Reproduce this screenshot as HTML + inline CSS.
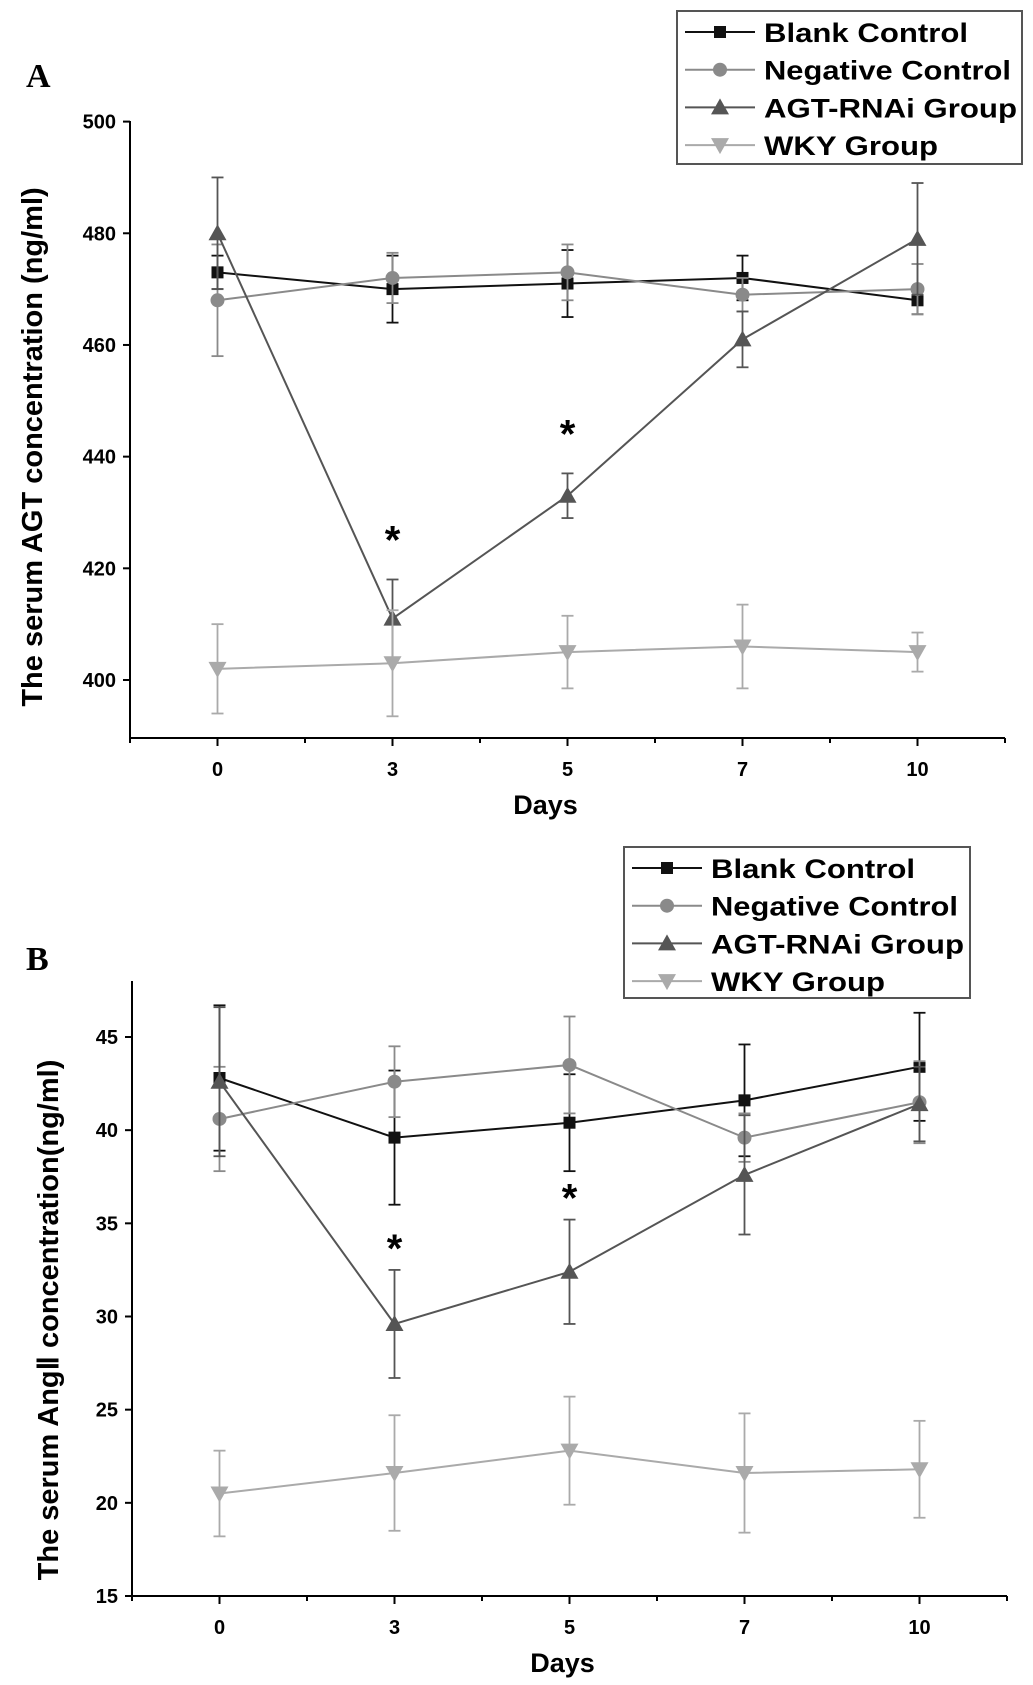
<!DOCTYPE html>
<html><head><meta charset="utf-8"><style>
body{margin:0;background:#fff}
svg{display:block}
text{font-family:"Liberation Sans",sans-serif;font-weight:bold}
</style></head><body>
<svg id="s" width="1033" height="1685" viewBox="0 0 1033 1685"></svg>
<script>
const days = ["0","3","5","7","10"];
const seriesNames = ["Blank Control","Negative Control","AGT-RNAi Group","WKY Group"];
const legendWidths = [204,247,253,174];
// Panel A (AGT, ng/ml)
const aTicks = [400,420,440,460,480,500];
const aBlank = [473,470,471,472,468];
const aBlankErr = [3,6,6,4,2.5];
const aNeg = [468,472,473,469,470];
const aNegErr = [10,4.5,5,3,4.5];
const aAgt = [480,411,433,461,479];
const aAgtErr = [10,7,4,5,10];
const aWky = [402,403,405,406,405];
const aWkyErr = [8,9.5,6.5,7.5,3.5];
const aStars = [1,2];
// Panel B (Ang II, ng/ml)
const bTicks = [15,20,25,30,35,40,45];
const bBlank = [42.8,39.6,40.4,41.6,43.4];
const bBlankErr = [3.9,3.6,2.6,3,2.9];
const bNeg = [40.6,42.6,43.5,39.6,41.5];
const bNegErr = [2.8,1.9,2.6,1.3,2.2];
const bAgt = [42.6,29.6,32.4,37.6,41.4];
const bAgtErr = [4,2.9,2.8,3.2,2];
const bWky = [20.5,21.6,22.8,21.6,21.8];
const bWkyErr = [2.3,3.1,2.9,3.2,2.6];
const bStars = [1,2];

const NS="http://www.w3.org/2000/svg";
const svg=document.getElementById('s');
function el(tag,attrs,parent,txt){const e=document.createElementNS(NS,tag);for(const k in attrs)e.setAttribute(k,attrs[k]);if(txt!==undefined)e.textContent=txt;(parent||svg).appendChild(e);return e;}
const colors=["#111","#8a8a8a","#555","#aaa"];
const markers=["square","circle","tri","dtri"];
function marker(g,type,x,y,c){
  let m;
  if(type==="square")m=el('rect',{x:x-6,y:y-6,width:12,height:12,fill:c},g);
  else if(type==="circle")m=el('circle',{cx:x,cy:y,r:7,fill:c},g);
  else if(type==="tri")m=el('polygon',{points:`${x},${y-9} ${x+9},${y+7} ${x-9},${y+7}`,fill:c},g);
  else m=el('polygon',{points:`${x},${y+9} ${x+9},${y-7} ${x-9},${y-7}`,fill:c},g);
  
  
}
function chart(p){
  const g=el('g',{});
  
  
  const X=i=>p.ax+p.step*(2*i+1)/2;
  const Y=v=>p.y0+(v-p.v0)*(p.y1-p.y0)/(p.v1-p.v0);
  const ya=el('line',{x1:p.ax,y1:p.top,x2:p.ax,y2:p.bottom,stroke:"#000","stroke-width":2},g);
  
  const xa=el('line',{x1:p.ax,y1:p.bottom,x2:p.ax+p.step*5,y2:p.bottom,stroke:"#000","stroke-width":2},g);
  
  for(let k=0;k<=10;k++){const x=p.ax+p.step*k/2;el('line',{x1:x,y1:p.bottom,x2:x,y2:p.bottom+(k%2?8:5),stroke:"#000","stroke-width":2},g);}
  p.ticks.forEach(t=>{const y=Y(t);el('line',{x1:p.ax-7,y1:y,x2:p.ax,y2:y,stroke:"#000","stroke-width":2},g);
    const tl=el('text',{x:p.ax-14,y:y+7,"text-anchor":"end","font-size":20},g,String(t));
    });
  days.forEach((d,i)=>{const tl=el('text',{x:X(i),y:p.bottom+38,"text-anchor":"middle","font-size":20},g,d);
    });
  const xt=el('text',{x:p.ax+p.step*2.5+p.dx,y:p.bottom+76,"text-anchor":"middle","font-size":27},g,"Days");
  
  const yt=el('text',{x:0,y:0,"text-anchor":"middle","font-size":29,transform:`translate(${p.ytx},${p.yty}) rotate(-90)`},g,p.ytitle);
  
  const pl=el('text',{x:p.lx,y:p.ly,"font-size":34,style:"font-family:'Liberation Serif',serif"},g,p.label);
  
  p.series.forEach((s,si)=>{
    const sg=el('g',{},g);
    
    
    const c=colors[si];
    s.v.forEach((v,i)=>{const x=X(i);const e=s.e[i];
      el('line',{x1:x,y1:Y(v-e),x2:x,y2:Y(v+e),stroke:c,"stroke-width":1.8},sg);
      el('line',{x1:x-6,y1:Y(v-e),x2:x+6,y2:Y(v-e),stroke:c,"stroke-width":1.8},sg);
      el('line',{x1:x-6,y1:Y(v+e),x2:x+6,y2:Y(v+e),stroke:c,"stroke-width":1.8},sg);});
    const ln=el('polyline',{points:s.v.map((v,i)=>X(i)+","+Y(v)).join(" "),fill:"none",stroke:c,"stroke-width":2},sg);
    
    s.v.forEach((v,i)=>marker(sg,markers[si],X(i),Y(v),c));
  });
  p.stars.forEach(i=>{const agt=p.series[2];const st=el('text',{x:X(i),y:Y(agt.v[i]+agt.e[i])-p.starOff,"text-anchor":"middle","font-size":40},g,"*");
    });
  const lg=el('g',{},g);
  
  
  el('rect',{x:p.leg[0],y:p.leg[1],width:p.leg[2],height:p.leg[3],fill:"#fff",stroke:"#555","stroke-width":2},lg);
  seriesNames.forEach((n,si)=>{const y=p.leg[1]+21+si*37.7;const x0=p.leg[0]+8;
    el('line',{x1:x0,y1:y,x2:x0+70,y2:y,stroke:colors[si],"stroke-width":2},lg);
    marker(lg,markers[si],x0+35,y,colors[si]);
    const t=el('text',{x:x0+79,y:y+10,"font-size":27,textLength:legendWidths[si],lengthAdjust:"spacingAndGlyphs"},lg,n);
    });
}
chart({name:"chart-a-agt",label:"A",lx:26,ly:87,ax:130,step:175,top:121,bottom:738,v0:400,v1:500,y0:680,y1:121.6,ticks:aTicks,dx:-22,
  series:[{v:aBlank,e:aBlankErr},{v:aNeg,e:aNegErr},{v:aAgt,e:aAgtErr},{v:aWky,e:aWkyErr}],stars:aStars,starOff:26,
  ytitle:"The serum AGT concentration (ng/ml)",ytx:42,yty:447,leg:[677,11,345,153]});
chart({name:"chart-b-angii",label:"B",lx:26,ly:970,ax:132,step:175,top:981,bottom:1596,v0:15,v1:45,y0:1596,y1:1037,ticks:bTicks,dx:-7,
  series:[{v:bBlank,e:bBlankErr},{v:bNeg,e:bNegErr},{v:bAgt,e:bAgtErr},{v:bWky,e:bWkyErr}],stars:bStars,starOff:8,
  ytitle:"The serum Ang\u2161  concentration(ng/ml)",ytx:58,yty:1320,leg:[624,847,346,151]});
</script>
</body></html>
